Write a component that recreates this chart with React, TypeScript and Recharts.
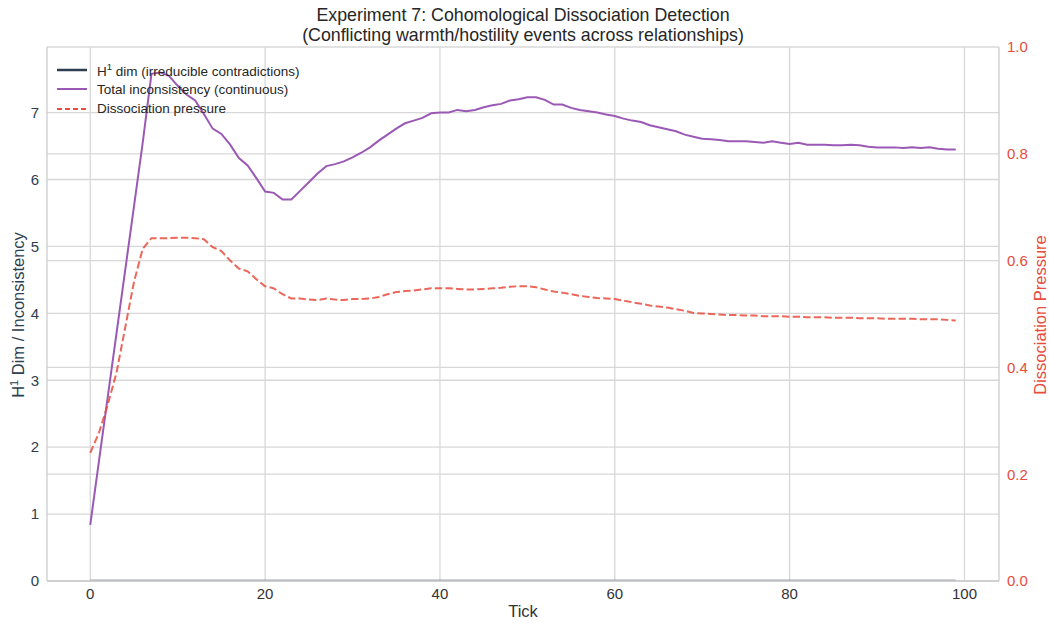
import { LineChart, Line, XAxis, YAxis, CartesianGrid } from 'recharts'

// total inconsistency (left axis), one value per tick 0..99
const inconsistency = [
  0.84, 1.8, 2.75, 3.7, 4.65, 5.6, 6.55, 7.58, 7.6, 7.55,
  7.4, 7.27, 7.18, 6.98, 6.76, 6.68, 6.52, 6.32, 6.21, 6.02,
  5.82, 5.8, 5.7, 5.7, 5.83, 5.96, 6.09, 6.2, 6.23, 6.27,
  6.33, 6.4, 6.48, 6.58, 6.67, 6.76, 6.84, 6.88, 6.92, 6.99,
  7.0, 7.0, 7.04, 7.02, 7.04, 7.08, 7.11, 7.13, 7.18, 7.2,
  7.23, 7.23, 7.19, 7.12, 7.12, 7.07, 7.04, 7.02, 7.0, 6.97,
  6.95, 6.91, 6.88, 6.86, 6.81, 6.78, 6.75, 6.72, 6.67, 6.64,
  6.61, 6.6, 6.59, 6.57, 6.57, 6.57, 6.56, 6.55, 6.57, 6.55,
  6.53, 6.55, 6.52, 6.52, 6.52, 6.51, 6.51, 6.52, 6.51, 6.49,
  6.48, 6.48, 6.48, 6.47, 6.48, 6.47, 6.48, 6.46, 6.45, 6.45,
]

// dissociation pressure (right axis)
const pressure = [
  0.24, 0.278, 0.33, 0.39, 0.475, 0.56, 0.622, 0.642, 0.642, 0.642,
  0.643, 0.643, 0.642, 0.64, 0.625, 0.618, 0.6, 0.585, 0.58, 0.565,
  0.552, 0.548, 0.537, 0.529, 0.529, 0.527, 0.526, 0.529, 0.527, 0.526,
  0.528, 0.528, 0.529, 0.532, 0.537, 0.541, 0.543, 0.544, 0.546, 0.548,
  0.548, 0.548, 0.547, 0.546, 0.546, 0.547, 0.548, 0.549, 0.551, 0.552,
  0.552, 0.55, 0.546, 0.542, 0.54, 0.537, 0.534, 0.532, 0.53, 0.529,
  0.528, 0.525, 0.522, 0.519, 0.516, 0.514, 0.512, 0.509, 0.506, 0.502,
  0.501, 0.5, 0.499, 0.498, 0.498, 0.497, 0.497, 0.496, 0.496, 0.496,
  0.495, 0.495, 0.494, 0.494, 0.494, 0.493, 0.493, 0.493, 0.492, 0.492,
  0.492, 0.491, 0.491, 0.491, 0.491, 0.49, 0.49, 0.49, 0.489, 0.488,
]

// H1 dim stays at zero the whole run
const h1dim = [
  0, 0, 0, 0, 0, 0, 0, 0, 0, 0, 0, 0, 0, 0, 0, 0, 0, 0, 0, 0,
  0, 0, 0, 0, 0, 0, 0, 0, 0, 0, 0, 0, 0, 0, 0, 0, 0, 0, 0, 0,
  0, 0, 0, 0, 0, 0, 0, 0, 0, 0, 0, 0, 0, 0, 0, 0, 0, 0, 0, 0,
  0, 0, 0, 0, 0, 0, 0, 0, 0, 0, 0, 0, 0, 0, 0, 0, 0, 0, 0, 0,
  0, 0, 0, 0, 0, 0, 0, 0, 0, 0, 0, 0, 0, 0, 0, 0, 0, 0, 0, 0,
]

const xTicks = [0, 20, 40, 60, 80, 100]
const leftTicks = [0, 1, 2, 3, 4, 5, 6, 7]
const rightTicks = [0, 0.2, 0.4, 0.6, 0.8, 1.0]

const data = inconsistency.map((v, i) => ({
  tick: i,
  total: v,
  pressure: pressure[i],
  h1: h1dim[i],
}))

const FONT = '"Liberation Sans", Arial, sans-serif'
const PURPLE = '#9b59b6'
const RED = '#e74c3c'
const NAVY = '#2c3e50'
const SPINE = '#cccccc'
const GRID = '#d8d8d8'

function LegendRow({ label, color, dash, width }: { label: React.ReactNode; color: string; dash?: string; width: number }) {
  return (
    <div style={{ display: 'flex', alignItems: 'center', height: 19.5 }}>
      <svg width={30} height={6} style={{ marginRight: 10 }}>
        <line x1={0} y1={3} x2={30} y2={3} stroke={color} strokeWidth={width} strokeDasharray={dash} />
      </svg>
      <span>{label}</span>
    </div>
  )
}

export default function App() {
  return (
    <div style={{ position: 'absolute', left: 0, top: 0, width: 1049, height: 623, background: '#fff', fontFamily: FONT, color: '#262626' }}>
      <div style={{ position: 'absolute', left: 0, width: 1046, top: 5, textAlign: 'center', fontSize: 17.8, lineHeight: '20px' }}>
        Experiment 7: Cohomological Dissociation Detection
        <br />
        (Conflicting warmth/hostility events across relationships)
      </div>

      <LineChart width={1049} height={623} data={data} margin={{ top: 47, right: 0, left: 0, bottom: 0 }}>
        <CartesianGrid yAxisId="left" stroke={GRID} strokeWidth={1.3} vertical horizontal syncWithTicks />
        <CartesianGrid yAxisId="right" stroke={GRID} strokeWidth={1.3} vertical={false} horizontal syncWithTicks />
        <XAxis
          dataKey="tick"
          type="number"
          domain={[-4.95, 103.95]}
          ticks={xTicks}
          allowDataOverflow
          height={42}
          tickSize={0}
          tickMargin={7}
          tickLine={false}
          axisLine={{ stroke: SPINE, strokeWidth: 1.3 }}
          tick={{ fontSize: 15, fill: '#333', fontFamily: FONT }}
        />
        <XAxis
          xAxisId="top"
          orientation="top"
          type="number"
          domain={[-4.95, 103.95]}
          allowDataOverflow
          height={0}
          tick={false}
          tickLine={false}
          axisLine={{ stroke: SPINE, strokeWidth: 1.3 }}
        />
        <YAxis
          yAxisId="left"
          type="number"
          domain={[0, 7.98]}
          ticks={leftTicks}
          allowDataOverflow
          width={47}
          tickSize={0}
          tickMargin={8}
          tickLine={false}
          axisLine={{ stroke: SPINE, strokeWidth: 1.3 }}
          tick={{ fontSize: 15, fill: NAVY, fontFamily: FONT }}
        />
        <YAxis
          yAxisId="right"
          orientation="right"
          type="number"
          domain={[0, 1]}
          ticks={rightTicks}
          allowDataOverflow
          width={50}
          tickSize={0}
          tickMargin={8}
          tickLine={false}
          axisLine={{ stroke: SPINE, strokeWidth: 1.3 }}
          tickFormatter={(v: number) => v.toFixed(1)}
          tick={{ fontSize: 15, fill: RED, fontFamily: FONT }}
        />
        <Line yAxisId="left" dataKey="h1" stroke={NAVY} strokeOpacity={0.45} strokeWidth={3} dot={false} isAnimationActive={false} />
        <Line yAxisId="left" dataKey="total" stroke={PURPLE} strokeWidth={2} dot={false} isAnimationActive={false} />
        <Line
          yAxisId="right"
          dataKey="pressure"
          stroke={RED}
          strokeOpacity={0.85}
          strokeWidth={2}
          strokeDasharray="7.4 3.2"
          dot={false}
          isAnimationActive={false}
        />
      </LineChart>

      <div style={{ position: 'absolute', left: 57, top: 60, fontSize: 13.5, color: '#262626' }}>
        <LegendRow color={NAVY} width={2.5} label={<>H<sup style={{ fontSize: 9.5 }}>1</sup> dim (irreducible contradictions)</>} />
        <LegendRow color={PURPLE} width={2} label="Total inconsistency (continuous)" />
        <LegendRow color={RED} width={2} dash="5 3" label="Dissociation pressure" />
      </div>

      <div style={{ position: 'absolute', left: 0, width: 1046, top: 602, textAlign: 'center', fontSize: 16.5, color: '#333' }}>Tick</div>

      <div
        style={{
          position: 'absolute',
          left: 18,
          top: 315,
          transform: 'translate(-50%, -50%) rotate(-90deg)',
          whiteSpace: 'nowrap',
          fontSize: 16.5,
          color: NAVY,
        }}
      >
        H<sup style={{ fontSize: 11 }}>1</sup> Dim / Inconsistency
      </div>
      <div
        style={{
          position: 'absolute',
          left: 1040,
          top: 315,
          transform: 'translate(-50%, -50%) rotate(-90deg)',
          whiteSpace: 'nowrap',
          fontSize: 16.5,
          color: RED,
        }}
      >
        Dissociation Pressure
      </div>
    </div>
  )
}
